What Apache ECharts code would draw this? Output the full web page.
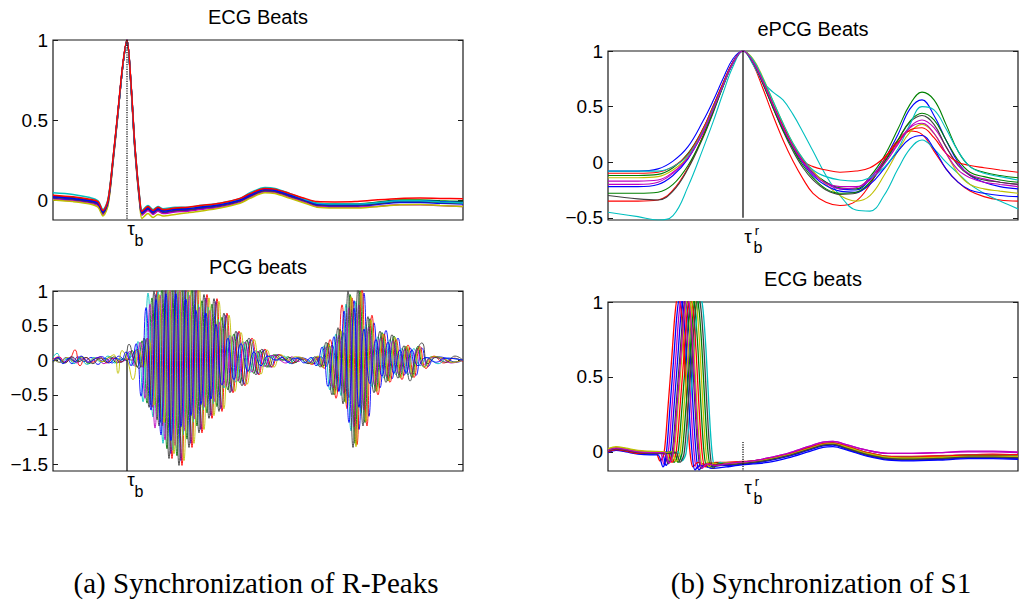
<!DOCTYPE html>
<html><head><meta charset="utf-8">
<script src="https://cdn.jsdelivr.net/npm/echarts@6/dist/echarts.min.js"></script>
<style>html,body{margin:0;padding:0;background:#fff}#c{width:1019px;height:604px}</style>
</head><body><div id="c"></div>
<script>
// ---------- texts ----------
const panelTitles = ['ECG Beats', 'PCG beats', 'ePCG Beats', 'ECG beats'];
const captions = ['(a) Synchronization of R-Peaks', '(b) Synchronization of S1'];

// ---------- axes ----------
const xRange = [0, 410];                       // sample index
const yRangeA = [-0.125, 1], yRangeB = [-1.6, 1], yRangeC = [-0.52, 1], yRangeD = [-0.127, 1];
const yTicksA = [0, 0.5, 1];
const yTicksB = [-1.5, -1, -0.5, 0, 0.5, 1];
const yTicksC = [-0.5, 0, 0.5, 1];
const yTicksD = [0, 0.5, 1];

// synchronisation instants and their marker extent [x, yTop, yBottom]
const tauA = [74, 1, -0.125];
const tauB = [74, 0, -1.6];
const tauC = [135, 1, -0.5];
const tauD = [135, 0.067, -0.127];

// ---------- (a) ECG beats aligned on R peak ----------
const xA = [0,20,37,45,50,55,60,65,70,74,78,82,87,89,95,100,105,110,122,135,147,167,187,197,212,222,237,252,264,282,302,322,347,367,387,410];
const ecgA1 = [0.01,0.0,-0.015,-0.03,-0.085,-0.02,0.24,0.55,0.85,1.0,0.72,0.31,-0.03,-0.09,-0.06,-0.085,-0.065,-0.08,-0.07,-0.065,-0.055,-0.04,-0.01,0.02,0.055,0.05,0.02,-0.01,-0.035,-0.04,-0.04,-0.03,-0.015,-0.015,-0.02,-0.025];
const ecgA2 = [0.025,0.015,0.0,-0.015,-0.07,-0.005,0.25,0.55,0.85,1.0,0.72,0.32,-0.015,-0.075,-0.045,-0.07,-0.05,-0.065,-0.055,-0.05,-0.04,-0.025,0.005,0.035,0.07,0.065,0.035,0.005,-0.02,-0.025,-0.025,-0.015,0.0,0.0,-0.005,-0.01];
const ecgA3 = [0.03,0.02,0.005,-0.01,-0.065,0.0,0.26,0.56,0.86,1.0,0.73,0.33,-0.01,-0.07,-0.04,-0.065,-0.045,-0.06,-0.05,-0.045,-0.035,-0.02,0.01,0.04,0.072,0.068,0.04,0.01,-0.01,-0.012,-0.01,0.0,0.01,0.012,0.01,0.008];
const ecgA4 = [0.045,0.035,0.015,-0.005,-0.06,0.005,0.26,0.55,0.85,1.0,0.72,0.33,-0.005,-0.065,-0.035,-0.06,-0.04,-0.055,-0.045,-0.045,-0.035,-0.02,0.01,0.045,0.078,0.072,0.04,0.005,-0.02,-0.025,-0.025,-0.018,-0.005,-0.005,-0.012,-0.018];
const ecgA5 = [0.005,-0.005,-0.02,-0.035,-0.09,-0.025,0.24,0.54,0.85,1.0,0.71,0.31,-0.035,-0.095,-0.065,-0.09,-0.07,-0.085,-0.075,-0.07,-0.06,-0.045,-0.015,0.015,0.05,0.045,0.015,-0.015,-0.04,-0.045,-0.045,-0.04,-0.03,-0.03,-0.035,-0.04];
const ecgA6 = [0.0,-0.01,-0.025,-0.045,-0.1,-0.035,0.23,0.54,0.85,1.0,0.71,0.3,-0.045,-0.115,-0.085,-0.11,-0.09,-0.1,-0.09,-0.08,-0.07,-0.05,-0.02,0.01,0.045,0.04,0.01,-0.02,-0.045,-0.05,-0.05,-0.042,-0.03,-0.028,-0.035,-0.04];
const ecgA7 = [0.015,0.005,-0.01,-0.025,-0.08,-0.015,0.25,0.55,0.85,1.0,0.72,0.32,-0.025,-0.085,-0.055,-0.08,-0.06,-0.075,-0.065,-0.06,-0.05,-0.035,-0.005,0.025,0.06,0.055,0.025,-0.005,-0.03,-0.035,-0.035,-0.025,-0.01,-0.01,-0.015,-0.02];
const ecgA8 = [0.02,0.01,-0.005,-0.02,-0.075,-0.01,0.25,0.55,0.85,1.0,0.72,0.32,-0.02,-0.08,-0.05,-0.075,-0.055,-0.07,-0.06,-0.055,-0.045,-0.03,0.0,0.03,0.065,0.06,0.03,0.0,-0.025,-0.03,-0.03,-0.02,-0.005,-0.005,-0.01,-0.015];

// ---------- (a) PCG beats: [sample, value] ----------
const pcg1 = [[0,0.03],[7,-0.03],[13,0.04],[19,-0.05],[25,0.05],[31,-0.02],[38,0.04],[45,-0.06],[52,0.03],[59,-0.04],[66,0.06],[72,0.0],[78,0.05],[83,0.15],[88,-0.1],[93,0.3],[98,-0.65],[103,0.95],[108,-0.9],[113,1.1],[118,-1.35],[123,1.2],[128,-1.45],[133,1.2],[138,-1.2],[143,1.1],[148,-1.0],[153,0.9],[158,-0.8],[163,0.85],[168,-0.7],[173,0.65],[179,-0.45],[185,0.4],[191,-0.35],[198,0.3],[205,-0.2],[211,0.15],[218,-0.1],[225,0.08],[233,0],[239,-0.05],[245,0.04],[253,0.02],[261,-0.05],[268,0.05],[273,-0.09],[279,0.22],[285,-0.45],[291,0.4],[296,-0.54],[301,0.86],[306,-1.0],[311,0.97],[316,-0.81],[321,0.54],[327,-0.4],[333,0.43],[339,-0.27],[345,0.32],[351,-0.22],[357,0.18],[363,-0.22],[369,0.18],[375,-0.09],[383,0.05],[393,0.03],[403,-0.03],[410,0]];
const pcg2 = [[0,-0.02],[5,0.03],[11,-0.04],[17,0.04],[23,-0.03],[29,0.05],[36,-0.05],[43,0.03],[50,-0.02],[57,0.05],[64,-0.04],[70,0.02],[74,0],[79,0.14],[84,-0.1],[89,0.28],[94,-0.62],[99,0.9],[104,-0.86],[109,1.05],[114,-1.28],[119,1.14],[124,-1.38],[129,1.14],[134,-1.14],[139,1.05],[144,-0.95],[149,0.86],[154,-0.76],[159,0.81],[164,-0.67],[169,0.62],[175,-0.43],[181,0.38],[187,-0.33],[194,0.29],[201,-0.19],[207,0.14],[214,-0.1],[221,0.08],[229,0],[235,0.05],[241,-0.04],[249,0.02],[257,-0.05],[264,0.05],[269,-0.1],[275,0.25],[281,-0.5],[287,0.45],[292,-0.6],[297,0.95],[302,-1.2],[307,1.0],[312,-0.9],[317,0.6],[323,-0.45],[329,0.4],[335,-0.3],[341,0.35],[347,-0.25],[353,0.2],[359,-0.25],[365,0.2],[371,-0.1],[379,0.05],[389,0.03],[399,-0.03],[410,0.01]];
const pcg3 = [[0,0.01],[6,0.05],[12,-0.03],[17,0.02],[22,0.15],[27,-0.08],[33,0.04],[40,-0.03],[47,0.05],[54,-0.04],[61,0.03],[68,-0.02],[74,0.02],[79,0],[84,0.16],[89,-0.1],[94,0.32],[99,-0.68],[104,1.0],[109,-0.95],[114,1.15],[119,-1.42],[124,1.26],[129,-1.52],[134,1.26],[139,-1.26],[144,1.15],[149,-1.05],[154,0.95],[159,-0.84],[164,0.89],[169,-0.74],[174,0.68],[180,-0.47],[186,0.42],[192,-0.37],[199,0.32],[206,-0.21],[212,0.16],[219,-0.1],[226,0.08],[234,0],[240,-0.04],[246,0.03],[251,0.02],[259,-0.06],[266,0.05],[271,-0.12],[277,0.3],[283,-0.55],[289,0.8],[294,-0.7],[299,0.9],[304,-1.22],[309,1.05],[314,-0.95],[319,0.65],[325,-0.5],[331,0.38],[337,-0.32],[343,0.3],[349,-0.28],[355,0.22],[361,-0.25],[367,0.2],[373,-0.12],[381,0.06],[391,-0.04],[401,0.03],[410,-0.02]];
const pcg4 = [[0,0.04],[4,0.1],[9,-0.02],[15,0.03],[21,-0.05],[27,0.02],[34,-0.06],[41,0.04],[48,-0.03],[55,0.06],[62,-0.04],[67,0.03],[70,0],[75,0.12],[80,-0.08],[85,0.27],[90,-0.6],[95,0.97],[100,-0.82],[105,0.99],[110,-1.2],[115,1.08],[120,-1.3],[125,1.08],[130,-1.08],[135,0.99],[140,-0.9],[145,0.81],[150,-0.72],[155,0.77],[160,-0.63],[165,0.59],[171,-0.4],[177,0.36],[183,-0.32],[190,0.27],[197,-0.18],[203,0.14],[210,-0.09],[217,0.07],[225,0],[231,0.06],[237,-0.05],[243,0.03],[248,0.02],[253,-0.04],[260,0.04],[265,-0.08],[271,0.21],[277,-0.43],[283,0.38],[288,-0.51],[293,0.81],[298,-1.02],[303,0.85],[308,-0.77],[313,0.51],[319,-0.38],[325,0.34],[331,-0.26],[337,0.3],[343,-0.21],[349,0.17],[355,-0.21],[361,0.17],[367,-0.08],[375,0.04],[385,-0.05],[395,0.03],[410,0]];
const pcg5 = [[0,0],[6,0.04],[12,-0.03],[18,0.05],[24,-0.04],[30,0.03],[37,-0.03],[44,0.04],[51,-0.05],[58,0.03],[65,-0.03],[72,0],[77,0.13],[82,-0.09],[87,0.26],[92,-0.55],[97,0.81],[102,-0.98],[107,0.94],[112,-1.15],[117,1.02],[122,-1.23],[127,1.02],[132,-1.02],[137,0.94],[142,-0.85],[147,0.77],[152,-0.68],[157,0.72],[162,-0.6],[167,0.55],[173,-0.38],[179,0.34],[185,-0.3],[192,0.26],[199,-0.17],[205,0.13],[212,-0.09],[219,0.07],[227,0],[233,-0.04],[239,0.05],[245,-0.02],[250,0.02],[256,-0.04],[263,0.04],[268,-0.08],[274,0.2],[280,-0.4],[286,0.36],[291,-0.48],[296,0.76],[301,-0.96],[306,0.8],[311,-0.72],[316,0.48],[322,-0.36],[328,0.32],[334,-0.24],[340,0.28],[346,-0.2],[352,0.16],[358,-0.2],[364,0.16],[370,-0.08],[378,0.04],[388,0.03],[398,-0.04],[410,0.01]];
const pcg6 = [[0,0.02],[7,-0.03],[14,0.04],[21,-0.02],[28,0.05],[35,-0.04],[42,0.03],[49,-0.02],[56,0.04],[61,0.08],[65,-0.19],[69,0.14],[74,0.02],[80,-0.28],[86,0.15],[91,-0.1],[96,0.3],[101,-0.65],[106,0.95],[111,-0.9],[116,1.1],[121,-1.35],[126,1.2],[131,-1.45],[136,1.2],[141,-1.2],[146,1.1],[151,-1.0],[156,0.9],[161,-0.8],[166,0.85],[171,-0.7],[176,0.65],[182,-0.45],[188,0.4],[194,-0.35],[201,0.3],[208,-0.2],[214,0.15],[221,-0.1],[228,0.08],[236,0],[242,0.05],[250,0.03],[258,-0.05],[265,0.06],[270,-0.1],[276,0.22],[282,-0.48],[288,0.42],[293,-0.62],[298,0.92],[303,-1.25],[308,0.98],[313,-0.88],[318,0.58],[324,-0.45],[330,0.38],[336,-0.3],[342,0.33],[348,-0.25],[354,0.2],[360,-0.23],[366,0.19],[372,-0.1],[380,0.05],[390,0.03],[400,-0.03],[410,0]];
const pcg7 = [[0,-0.03],[6,0.02],[12,-0.04],[19,0.05],[26,-0.02],[33,0.04],[40,-0.05],[47,0.03],[54,-0.03],[61,0.05],[67,-0.03],[72,0.03],[76,0.23],[81,0.0],[86,-0.12],[91,0.32],[96,-0.68],[101,1.0],[106,-0.95],[111,1.15],[116,-1.42],[121,1.26],[126,-1.52],[131,1.26],[136,-1.26],[141,1.15],[146,-1.05],[151,0.95],[156,-0.84],[161,0.89],[166,-0.74],[171,0.68],[177,-0.47],[183,0.42],[189,-0.37],[196,0.32],[203,-0.21],[209,0.16],[216,-0.1],[223,0.08],[231,0],[237,0.04],[243,-0.03],[247,0.02],[255,-0.05],[262,0.05],[267,-0.1],[273,0.26],[279,-0.5],[285,0.47],[290,-0.63],[295,1.0],[300,-1.26],[305,1.05],[310,-0.95],[315,0.63],[321,-0.47],[327,0.42],[333,-0.32],[339,0.37],[345,-0.26],[351,0.21],[357,-0.3],[363,0.1],[369,0.25],[375,-0.05],[383,0.04],[393,-0.03],[402,0.06],[410,0]];
const pcg8 = [[0,-0.01],[5,0.04],[10,-0.05],[16,0.03],[22,-0.02],[28,0.06],[35,-0.03],[42,0.02],[49,0.05],[56,-0.04],[63,0.03],[68,0],[73,0.12],[78,-0.08],[83,0.24],[88,-0.52],[93,0.76],[98,-0.72],[103,0.88],[108,-1.08],[113,0.96],[118,-1.16],[123,0.96],[128,-0.96],[133,0.88],[138,-0.8],[143,0.72],[148,-0.64],[153,0.68],[158,-0.56],[163,0.52],[169,-0.36],[175,0.32],[181,-0.28],[188,0.24],[195,-0.16],[201,0.12],[208,-0.08],[215,0.06],[223,0],[229,0.04],[235,-0.03],[241,0.03],[246,0.02],[251,-0.04],[258,0.04],[263,-0.08],[269,0.19],[275,-0.38],[281,0.34],[286,-0.45],[291,0.71],[296,-0.9],[301,0.75],[306,-0.68],[311,0.45],[317,-0.34],[323,0.3],[329,-0.23],[335,0.26],[341,-0.19],[347,0.15],[353,-0.19],[359,0.15],[365,-0.08],[373,0.04],[383,-0.03],[393,0.03],[410,0]];

// ---------- (b) ePCG beats aligned on S1 ----------
const xC = [0,30,50,65,80,95,105,115,125,135,145,155,165,175,185,195,205,218,232,248,262,276,290,302,314,326,338,350,362,376,392,410];
const epcg1 = [-0.08,-0.08,-0.06,0.01,0.14,0.37,0.55,0.75,0.93,1.0,0.9,0.72,0.5,0.3,0.13,0.0,-0.1,-0.18,-0.24,-0.25,-0.15,0.02,0.25,0.48,0.56,0.42,0.2,0.0,-0.12,-0.18,-0.22,-0.24];
const epcg2 = [-0.12,-0.12,-0.11,-0.05,0.08,0.3,0.5,0.71,0.9,1.0,0.92,0.74,0.52,0.32,0.15,0.02,-0.09,-0.18,-0.23,-0.24,-0.13,0.05,0.3,0.52,0.63,0.56,0.34,0.1,-0.04,-0.09,-0.12,-0.14];
const epcg3 = [-0.35,-0.35,-0.34,-0.25,-0.05,0.24,0.46,0.69,0.9,1.0,0.88,0.66,0.42,0.2,0.01,-0.15,-0.28,-0.36,-0.39,-0.35,-0.2,0.02,0.2,0.28,0.25,0.1,-0.06,-0.18,-0.26,-0.31,-0.34,-0.35];
const epcg4 = [-0.45,-0.49,-0.52,-0.48,-0.22,0.12,0.36,0.62,0.86,1.0,0.88,0.72,0.63,0.56,0.43,0.27,0.1,-0.12,-0.3,-0.43,-0.44,-0.3,-0.06,0.12,0.2,0.12,0.0,-0.1,-0.2,-0.28,-0.35,-0.42];
const epcg5 = [-0.2,-0.2,-0.18,-0.1,0.04,0.27,0.48,0.7,0.9,1.0,0.92,0.74,0.52,0.32,0.15,0.02,-0.09,-0.19,-0.24,-0.23,-0.14,0.0,0.17,0.32,0.38,0.31,0.14,-0.02,-0.11,-0.15,-0.18,-0.2];
const epcg6 = [-0.14,-0.14,-0.13,-0.07,0.05,0.28,0.48,0.7,0.9,1.0,0.93,0.76,0.55,0.35,0.17,0.03,-0.08,-0.2,-0.3,-0.35,-0.3,-0.12,0.1,0.27,0.34,0.26,0.08,-0.1,-0.2,-0.24,-0.26,-0.28];
const epcg7 = [-0.3,-0.33,-0.34,-0.26,-0.06,0.22,0.44,0.68,0.89,1.0,0.9,0.7,0.49,0.28,0.1,-0.05,-0.16,-0.25,-0.29,-0.28,-0.18,0.0,0.2,0.36,0.42,0.34,0.14,-0.03,-0.12,-0.16,-0.18,-0.2];
const epcg8 = [-0.22,-0.22,-0.2,-0.12,0.03,0.27,0.48,0.7,0.9,1.0,0.9,0.71,0.5,0.3,0.13,-0.01,-0.12,-0.21,-0.26,-0.27,-0.2,-0.06,0.1,0.21,0.24,0.12,-0.06,-0.18,-0.25,-0.28,-0.3,-0.31];
const epcg9 = [-0.28,-0.28,-0.27,-0.2,-0.03,0.23,0.45,0.68,0.89,1.0,0.9,0.71,0.49,0.29,0.12,-0.03,-0.14,-0.24,-0.28,-0.27,-0.18,-0.01,0.2,0.37,0.44,0.38,0.2,0.02,-0.09,-0.13,-0.16,-0.18];
const epcg10 = [-0.1,-0.1,-0.09,-0.04,0.07,0.3,0.5,0.71,0.9,1.0,0.91,0.73,0.52,0.33,0.15,0.01,-0.04,-0.07,-0.09,-0.08,-0.05,0.04,0.18,0.29,0.31,0.22,0.08,0.0,-0.03,-0.05,-0.07,-0.09];
const epcg11 = [-0.08,-0.08,-0.08,-0.04,0.06,0.28,0.48,0.69,0.89,1.0,0.92,0.75,0.55,0.35,0.17,0.03,-0.07,-0.13,-0.16,-0.17,-0.14,-0.05,0.12,0.34,0.5,0.47,0.3,0.1,-0.04,-0.1,-0.13,-0.16];
const epcg12 = [-0.17,-0.17,-0.16,-0.09,0.04,0.27,0.47,0.69,0.89,1.0,0.9,0.72,0.51,0.31,0.14,0.0,-0.11,-0.19,-0.22,-0.22,-0.16,-0.02,0.16,0.31,0.35,0.26,0.08,-0.07,-0.14,-0.18,-0.2,-0.22];

// ---------- (b) ECG beats (shown in S1 frame): [sample, value] ----------
const ecgD1 = [[0,0.0],[8,0.015],[18,0.005],[30,-0.01],[42,-0.015],[54,-0.01],[58,-0.09],[62,-0.02],[66,0.3],[70,0.65],[73,0.92],[76,1.05],[79,0.95],[82,0.68],[85,0.3],[88,0.0],[91,-0.12],[96,-0.09],[104,-0.11],[118,-0.1],[130,-0.09],[145,-0.08],[160,-0.07],[180,-0.04],[200,0.0],[215,0.03],[225,0.035],[240,0.01],[260,-0.03],[280,-0.055],[300,-0.06],[330,-0.055],[360,-0.045],[385,-0.045],[410,-0.05]];
const ecgD2 = [[0,0.005],[8,0.02],[18,0.01],[30,0.0],[42,-0.005],[55,-0.005],[62,0.0],[66,-0.07],[70,-0.01],[74,0.3],[78,0.65],[81,0.92],[84,1.05],[87,0.95],[90,0.68],[93,0.3],[96,0.0],[99,-0.1],[104,-0.08],[110,-0.09],[118,-0.08],[130,-0.075],[145,-0.065],[160,-0.05],[180,-0.02],[200,0.02],[215,0.05],[225,0.055],[240,0.03],[260,-0.01],[280,-0.035],[300,-0.04],[330,-0.035],[360,-0.03],[385,-0.025],[410,-0.03]];
const ecgD3 = [[0,0.01],[8,0.025],[18,0.015],[30,0.0],[42,0.0],[48,-0.005],[52,-0.06],[56,-0.01],[60,0.3],[64,0.65],[67,0.92],[70,1.05],[73,0.95],[76,0.68],[79,0.3],[82,0.0],[85,-0.1],[90,-0.07],[98,-0.085],[108,-0.07],[118,-0.07],[130,-0.065],[145,-0.06],[160,-0.045],[180,-0.015],[200,0.03],[215,0.055],[225,0.06],[240,0.035],[260,-0.005],[280,-0.03],[300,-0.03],[330,-0.025],[360,-0.02],[385,-0.015],[410,-0.02]];
const ecgD4 = [[0,0.015],[8,0.03],[18,0.02],[30,0.005],[42,0.0],[60,-0.005],[70,0.0],[74,-0.06],[78,-0.01],[82,0.3],[86,0.65],[89,0.92],[92,1.05],[95,0.95],[98,0.68],[101,0.3],[104,0.0],[107,-0.1],[112,-0.07],[118,-0.075],[130,-0.07],[145,-0.06],[160,-0.045],[180,-0.015],[200,0.025],[215,0.055],[225,0.06],[240,0.035],[260,-0.005],[280,-0.03],[300,-0.035],[330,-0.03],[360,-0.02],[385,-0.02],[410,-0.025]];
const ecgD5 = [[0,0.0],[8,0.02],[18,0.01],[30,0.0],[42,-0.01],[52,-0.005],[56,-0.08],[60,-0.015],[64,0.3],[68,0.65],[71,0.92],[74,1.05],[77,0.95],[80,0.68],[83,0.3],[86,0.0],[89,-0.11],[94,-0.08],[102,-0.09],[118,-0.08],[130,-0.07],[145,-0.06],[160,-0.04],[180,-0.01],[200,0.035],[215,0.065],[225,0.07],[240,0.045],[260,0.01],[280,-0.01],[300,-0.01],[330,-0.005],[360,0.005],[385,0.005],[410,0.0]];
const ecgD6 = [[0,0.02],[8,0.035],[18,0.025],[30,0.01],[42,0.005],[58,0.0],[62,-0.07],[66,-0.01],[70,0.3],[74,0.65],[77,0.92],[80,1.05],[83,0.95],[86,0.68],[89,0.3],[92,0.0],[95,-0.1],[100,-0.07],[108,-0.08],[118,-0.075],[130,-0.07],[145,-0.06],[160,-0.05],[180,-0.02],[200,0.02],[215,0.045],[225,0.05],[240,0.025],[260,-0.015],[280,-0.04],[300,-0.045],[330,-0.04],[360,-0.03],[385,-0.03],[410,-0.035]];
const ecgD7 = [[0,0.005],[8,0.02],[18,0.01],[30,-0.005],[42,-0.01],[56,-0.01],[60,-0.08],[64,-0.015],[68,0.3],[72,0.65],[75,0.92],[78,1.05],[81,0.95],[84,0.68],[87,0.3],[90,0.0],[93,-0.11],[98,-0.08],[106,-0.095],[118,-0.085],[130,-0.08],[145,-0.07],[160,-0.055],[180,-0.025],[200,0.015],[215,0.045],[225,0.05],[240,0.02],[260,-0.02],[280,-0.045],[300,-0.05],[330,-0.045],[360,-0.035],[385,-0.035],[410,-0.04]];
const ecgD8 = [[0,-0.005],[8,0.01],[18,0.0],[30,-0.015],[42,-0.02],[50,-0.02],[55,-0.1],[58,-0.03],[62,0.3],[66,0.65],[69,0.92],[72,1.05],[75,0.95],[78,0.68],[81,0.3],[84,0.0],[87,-0.12],[92,-0.09],[100,-0.1],[110,-0.09],[118,-0.09],[130,-0.085],[145,-0.075],[160,-0.06],[180,-0.03],[200,0.01],[215,0.04],[225,0.045],[240,0.015],[260,-0.025],[280,-0.05],[300,-0.055],[330,-0.05],[360,-0.04],[385,-0.04],[410,-0.045]];
const ecgD9 = [[0,0.01],[8,0.025],[18,0.015],[30,0.0],[42,-0.005],[58,-0.005],[66,0.0],[70,-0.07],[74,-0.01],[78,0.3],[82,0.65],[85,0.92],[88,1.05],[91,0.95],[94,0.68],[97,0.3],[100,0.0],[103,-0.1],[108,-0.075],[118,-0.08],[130,-0.075],[145,-0.065],[160,-0.05],[180,-0.02],[200,0.025],[215,0.05],[225,0.055],[240,0.03],[260,-0.01],[280,-0.035],[300,-0.04],[330,-0.035],[360,-0.025],[385,-0.025],[410,-0.03]];
const ecgD10 = [[0,0.0],[8,0.015],[18,0.005],[30,-0.01],[42,-0.01],[56,-0.01],[60,-0.005],[64,-0.07],[68,-0.01],[72,0.3],[76,0.65],[79,0.92],[82,1.05],[85,0.95],[88,0.68],[91,0.3],[94,0.0],[97,-0.1],[102,-0.075],[110,-0.085],[118,-0.08],[130,-0.07],[145,-0.06],[160,-0.045],[180,-0.015],[200,0.025],[215,0.055],[225,0.06],[240,0.035],[260,-0.005],[280,-0.03],[300,-0.035],[330,-0.03],[360,-0.02],[385,-0.02],[410,-0.02]];
const ecgD11 = [[0,0.02],[8,0.03],[18,0.02],[30,0.005],[42,0.0],[58,-0.005],[64,0.0],[68,-0.065],[72,-0.01],[76,0.3],[80,0.65],[83,0.92],[86,1.05],[89,0.95],[92,0.68],[95,0.3],[98,0.0],[101,-0.1],[106,-0.075],[114,-0.085],[118,-0.08],[130,-0.075],[145,-0.065],[160,-0.05],[180,-0.02],[200,0.02],[215,0.05],[225,0.055],[240,0.03],[260,-0.01],[280,-0.035],[300,-0.04],[330,-0.035],[360,-0.03],[385,-0.03],[410,-0.03]];
const ecgD12 = [[0,0.005],[8,0.02],[18,0.01],[30,-0.005],[42,-0.01],[60,-0.01],[68,-0.005],[72,-0.07],[76,-0.015],[80,0.3],[84,0.65],[87,0.92],[90,1.05],[93,0.95],[96,0.68],[99,0.3],[102,0.0],[105,-0.11],[110,-0.08],[118,-0.085],[130,-0.08],[145,-0.07],[160,-0.055],[180,-0.025],[200,0.015],[215,0.045],[225,0.05],[240,0.02],[260,-0.02],[280,-0.045],[300,-0.05],[330,-0.045],[360,-0.035],[385,-0.035],[410,-0.04]];
const ecgD13 = [[0,0.01],[8,0.025],[18,0.015],[30,0.0],[42,-0.005],[56,-0.005],[61,-0.075],[65,-0.01],[69,0.3],[73,0.65],[76,0.92],[79,1.05],[82,0.95],[85,0.68],[88,0.3],[91,0.0],[94,-0.11],[99,-0.08],[107,-0.09],[118,-0.08],[130,-0.07],[145,-0.06],[160,-0.04],[180,-0.01],[200,0.035],[215,0.065],[225,0.07],[240,0.045],[260,0.01],[280,-0.01],[300,-0.01],[330,-0.005],[360,0.0],[385,0.0],[410,-0.005]];

// ---------- build ----------
const COL = {b:'#0000ff', g:'#008000', r:'#ff0000', c:'#00bfbf', m:'#bf00bf', y:'#bfbf00', k:'#404040'};
const zip = (xs, ys) => xs.map((x, i) => [x, ys[i]]);

const panelA = [[ecgA1,'b'],[ecgA2,'g'],[ecgA5,'m'],[ecgA6,'y'],[ecgA7,'k'],[ecgA8,'b'],[ecgA4,'c'],[ecgA3,'r']].map(([a,c]) => [zip(xA, a), c]);
const panelB = [[pcg1,'b'],[pcg2,'g'],[pcg3,'r'],[pcg4,'c'],[pcg5,'m'],[pcg6,'y'],[pcg7,'k'],[pcg8,'b']];
const panelC = [[epcg1,'b'],[epcg2,'g'],[epcg3,'r'],[epcg4,'c'],[epcg5,'m'],[epcg6,'y'],[epcg7,'k'],[epcg8,'b'],[epcg9,'g'],[epcg10,'r'],[epcg11,'c'],[epcg12,'m']].map(([a,c]) => [zip(xC, a), c]);
const panelD = [[ecgD1,'b'],[ecgD2,'g'],[ecgD3,'r'],[ecgD4,'c'],[ecgD5,'m'],[ecgD6,'y'],[ecgD7,'k'],[ecgD8,'b'],[ecgD9,'g'],[ecgD10,'r'],[ecgD11,'y'],[ecgD12,'k'],[ecgD13,'m']];

const FONT = '"Liberation Sans", Arial, Helvetica, sans-serif';
const fmt = v => v < 0 ? '\u2212' + Math.abs(v) : String(v);

const gridPos = [
  {left:53, top:40, width:410, height:180},
  {left:53, top:291, width:410, height:180},
  {left:608, top:51, width:410, height:169},
  {left:608, top:302, width:410, height:169}
];
const yRanges = [yRangeA, yRangeB, yRangeC, yRangeD];
const yTicks = [yTicksA, yTicksB, yTicksC, yTicksD];
const taus = [tauA, tauB, tauC, tauD];
const tauStyle = ['dotted', 'solid', 'solid', 'dotted'];
const panels = [panelA, panelB, panelC, panelD];
const smoothing = [0.3, 0.5, 0.4, 0.3];
const widths = [1.5, 0.9, 1.1, 1.3];

const grid = gridPos.map(g => Object.assign({show:true, borderColor:'#1a1a1a', borderWidth:1.2, backgroundColor:'transparent', outerBoundsMode:'none', containLabel:false}, g));
const xAxis = gridPos.map((g, i) => ({type:'value', gridIndex:i, min:xRange[0], max:xRange[1], show:false}));
const yAxis = [];
gridPos.forEach((g, i) => {
  const base = {type:'value', gridIndex:i, min:yRanges[i][0], max:yRanges[i][1], splitLine:{show:false}, axisLine:{show:false}};
  yAxis.push(Object.assign({}, base, {position:'left',
    axisTick:{show:true, inside:true, length:5, lineStyle:{color:'#1a1a1a'}, customValues:yTicks[i]},
    axisLabel:{show:true, customValues:yTicks[i], formatter:fmt, margin:5, color:'#000', fontSize:19, fontFamily:FONT}}));
  yAxis.push(Object.assign({}, base, {position:'right',
    axisTick:{show:true, inside:true, length:5, lineStyle:{color:'#1a1a1a'}, customValues:yTicks[i]},
    axisLabel:{show:false}}));
});

const series = [];
panels.forEach((p, gi) => {
  p.forEach(([data, c]) => {
    series.push({type:'line', xAxisIndex:gi, yAxisIndex:gi*2, data, symbol:'none', showSymbol:false,
      smooth:smoothing[gi], clip:true, silent:true, z:2,
      lineStyle:{color:COL[c], width:widths[gi]}, itemStyle:{color:COL[c]}});
  });
  const t = taus[gi];
  series.push({type:'line', xAxisIndex:gi, yAxisIndex:gi*2, data:[[t[0], t[1]], [t[0], t[2]]],
    symbol:'none', showSymbol:false, silent:true, z:5, clip:false,
    lineStyle:{color:'#000', width:1.2, type:tauStyle[gi]}});
});

const titleStyle = {fontFamily:FONT, fontSize:20, fontWeight:'normal', color:'#000'};
const capStyle = {fontFamily:'"Liberation Serif", "Times New Roman", serif', fontSize:29, fontWeight:'normal', color:'#000'};
const title = [
  {text:panelTitles[0], left:258, top:7, textAlign:'center', padding:0, textStyle:titleStyle},
  {text:panelTitles[1], left:258, top:257, textAlign:'center', padding:0, textStyle:titleStyle},
  {text:panelTitles[2], left:813, top:19, textAlign:'center', padding:0, textStyle:titleStyle},
  {text:panelTitles[3], left:813, top:269, textAlign:'center', padding:0, textStyle:titleStyle},
  {text:captions[0], left:256, top:568, textAlign:'center', padding:0, textStyle:capStyle},
  {text:captions[1], left:821, top:568, textAlign:'center', padding:0, textStyle:capStyle}
];

const chart = echarts.init(document.getElementById('c'), null, {renderer:'svg', width:1019, height:604});
chart.setOption({backgroundColor:'#fff', animation:false, title, grid, xAxis, yAxis, series});

// tau labels placed through the axes
const graphic = [];
const txt = (x, y, s, size) => ({type:'text', x, y, silent:true, z:10,
  style:{text:s, font:size + 'px ' + FONT, fill:'#000', textAlign:'center', textVerticalAlign:'middle'}});
taus.forEach((t, gi) => {
  const p = chart.convertToPixel({xAxisIndex:gi, yAxisIndex:gi*2}, [t[0], yRanges[gi][0]]);
  if (gi < 2) {
    graphic.push(txt(p[0] + 4, p[1] + 8, '\u03c4', 19));
    graphic.push(txt(p[0] + 12, p[1] + 20, 'b', 16));
  } else {
    graphic.push(txt(p[0] + 5, p[1] + 16, '\u03c4', 19));
    graphic.push(txt(p[0] + 14, p[1] + 10, 'r', 13));
    graphic.push(txt(p[0] + 15, p[1] + 27, 'b', 16));
  }
});
chart.setOption({graphic});
</script></body></html>
